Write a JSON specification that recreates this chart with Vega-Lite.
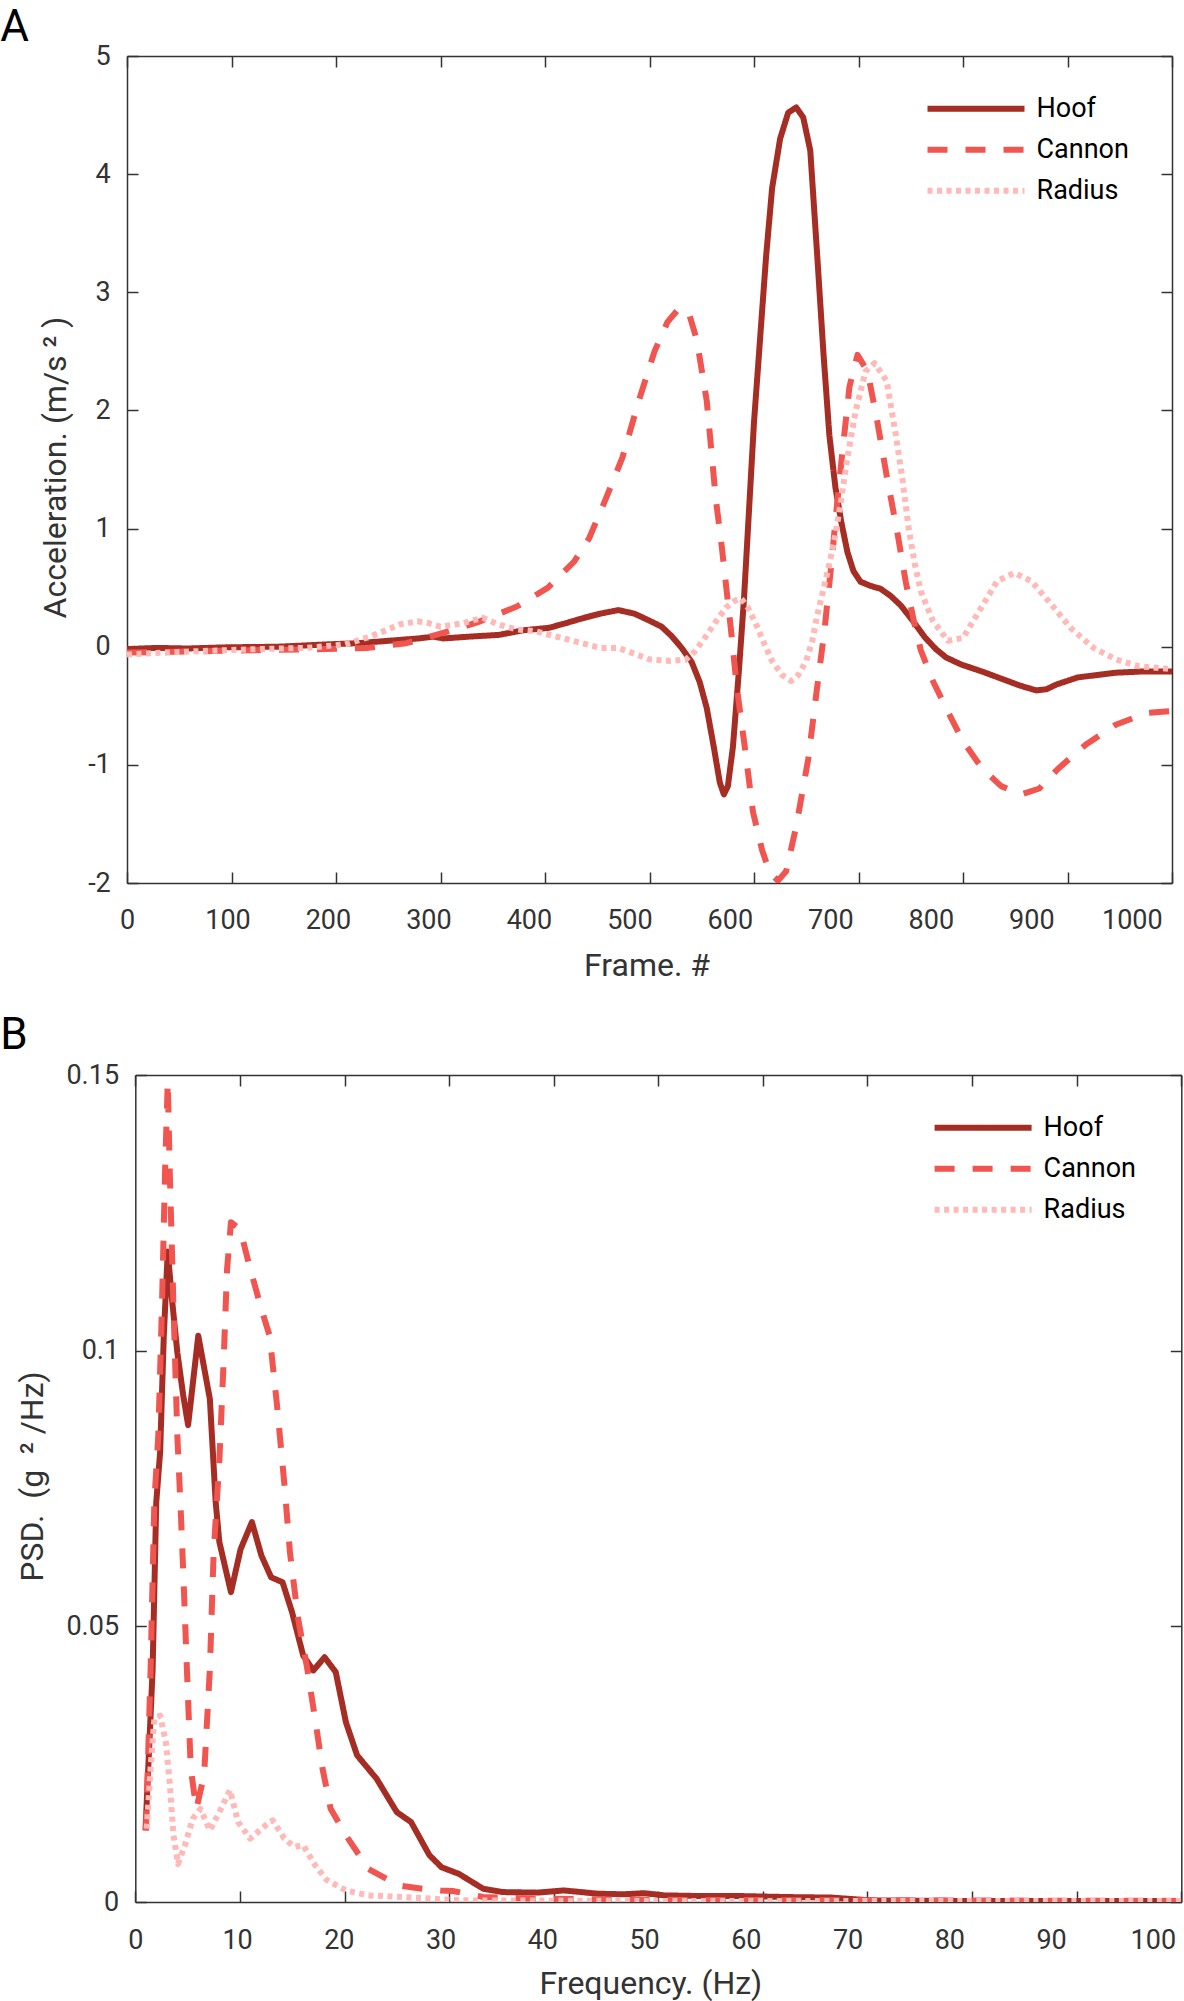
{
  "$schema": "https://vega.github.io/schema/vega-lite/v6.json",
  "background": "white",
  "padding": {"left": 0, "top": 6, "right": 0, "bottom": 3},
  "config": {
    "font": "Roboto",
    "view": {"stroke": null},
    "axis": {
      "grid": false,
      "domainColor": "#333333",
      "domainWidth": 1.5,
      "tickColor": "#333333",
      "tickWidth": 1.5,
      "tickSize": -11,
      "labelFont": "Roboto",
      "labelFontSize": 27,
      "labelColor": "#333333",
      "labelFlush": false,
      "labelOverlap": false,
      "titleFont": "Roboto",
      "titleFontSize": 32,
      "titleFontWeight": "normal",
      "titleColor": "#333333"
    },
    "legend": {
      "labelFont": "Roboto",
      "labelFontSize": 27,
      "labelColor": "black"
    }
  },
  "datasets": {
    "accel": [
      {"part": "Hoof", "frame": 0, "acc": -0.02}, {"part": "Hoof", "frame": 30, "acc": -0.01}, {"part": "Hoof", "frame": 60, "acc": -0.015}, {"part": "Hoof", "frame": 100, "acc": -0.005}, {"part": "Hoof", "frame": 150, "acc": 0.0}, {"part": "Hoof", "frame": 200, "acc": 0.02}, {"part": "Hoof", "frame": 230, "acc": 0.03}, {"part": "Hoof", "frame": 260, "acc": 0.05}, {"part": "Hoof", "frame": 290, "acc": 0.07}, {"part": "Hoof", "frame": 305, "acc": 0.085}, {"part": "Hoof", "frame": 315, "acc": 0.07}, {"part": "Hoof", "frame": 340, "acc": 0.085}, {"part": "Hoof", "frame": 370, "acc": 0.1}, {"part": "Hoof", "frame": 395, "acc": 0.14}, {"part": "Hoof", "frame": 420, "acc": 0.16}, {"part": "Hoof", "frame": 437, "acc": 0.2}, {"part": "Hoof", "frame": 455, "acc": 0.245}, {"part": "Hoof", "frame": 471, "acc": 0.28}, {"part": "Hoof", "frame": 489, "acc": 0.31}, {"part": "Hoof", "frame": 505, "acc": 0.28}, {"part": "Hoof", "frame": 520, "acc": 0.22}, {"part": "Hoof", "frame": 532, "acc": 0.17}, {"part": "Hoof", "frame": 542, "acc": 0.09}, {"part": "Hoof", "frame": 552, "acc": -0.01}, {"part": "Hoof", "frame": 562, "acc": -0.13}, {"part": "Hoof", "frame": 570, "acc": -0.3}, {"part": "Hoof", "frame": 577, "acc": -0.52}, {"part": "Hoof", "frame": 584, "acc": -0.85}, {"part": "Hoof", "frame": 590, "acc": -1.15}, {"part": "Hoof", "frame": 594, "acc": -1.25}, {"part": "Hoof", "frame": 598, "acc": -1.18}, {"part": "Hoof", "frame": 603, "acc": -0.85}, {"part": "Hoof", "frame": 609, "acc": -0.2}, {"part": "Hoof", "frame": 614, "acc": 0.4}, {"part": "Hoof", "frame": 619, "acc": 1.15}, {"part": "Hoof", "frame": 624, "acc": 1.9}, {"part": "Hoof", "frame": 630, "acc": 2.6}, {"part": "Hoof", "frame": 636, "acc": 3.3}, {"part": "Hoof", "frame": 642, "acc": 3.88}, {"part": "Hoof", "frame": 650, "acc": 4.3}, {"part": "Hoof", "frame": 658, "acc": 4.52}, {"part": "Hoof", "frame": 666, "acc": 4.565}, {"part": "Hoof", "frame": 673, "acc": 4.48}, {"part": "Hoof", "frame": 680, "acc": 4.2}, {"part": "Hoof", "frame": 687, "acc": 3.3}, {"part": "Hoof", "frame": 693, "acc": 2.5}, {"part": "Hoof", "frame": 699, "acc": 1.79}, {"part": "Hoof", "frame": 705, "acc": 1.35}, {"part": "Hoof", "frame": 711, "acc": 1.05}, {"part": "Hoof", "frame": 717, "acc": 0.8}, {"part": "Hoof", "frame": 723, "acc": 0.64}, {"part": "Hoof", "frame": 730, "acc": 0.55}, {"part": "Hoof", "frame": 740, "acc": 0.515}, {"part": "Hoof", "frame": 750, "acc": 0.49}, {"part": "Hoof", "frame": 760, "acc": 0.43}, {"part": "Hoof", "frame": 770, "acc": 0.35}, {"part": "Hoof", "frame": 782, "acc": 0.22}, {"part": "Hoof", "frame": 794, "acc": 0.08}, {"part": "Hoof", "frame": 805, "acc": -0.02}, {"part": "Hoof", "frame": 815, "acc": -0.09}, {"part": "Hoof", "frame": 830, "acc": -0.15}, {"part": "Hoof", "frame": 851, "acc": -0.21}, {"part": "Hoof", "frame": 870, "acc": -0.27}, {"part": "Hoof", "frame": 889, "acc": -0.33}, {"part": "Hoof", "frame": 905, "acc": -0.37}, {"part": "Hoof", "frame": 915, "acc": -0.36}, {"part": "Hoof", "frame": 925, "acc": -0.32}, {"part": "Hoof", "frame": 946, "acc": -0.26}, {"part": "Hoof", "frame": 984, "acc": -0.22}, {"part": "Hoof", "frame": 1010, "acc": -0.21}, {"part": "Hoof", "frame": 1040, "acc": -0.21},
      {"part": "Cannon", "frame": 0, "acc": -0.05}, {"part": "Cannon", "frame": 64, "acc": -0.04}, {"part": "Cannon", "frame": 120, "acc": -0.03}, {"part": "Cannon", "frame": 198, "acc": -0.02}, {"part": "Cannon", "frame": 240, "acc": -0.01}, {"part": "Cannon", "frame": 278, "acc": 0.03}, {"part": "Cannon", "frame": 312, "acc": 0.11}, {"part": "Cannon", "frame": 350, "acc": 0.21}, {"part": "Cannon", "frame": 388, "acc": 0.34}, {"part": "Cannon", "frame": 419, "acc": 0.5}, {"part": "Cannon", "frame": 445, "acc": 0.72}, {"part": "Cannon", "frame": 460, "acc": 0.92}, {"part": "Cannon", "frame": 474, "acc": 1.2}, {"part": "Cannon", "frame": 493, "acc": 1.6}, {"part": "Cannon", "frame": 510, "acc": 2.1}, {"part": "Cannon", "frame": 525, "acc": 2.5}, {"part": "Cannon", "frame": 538, "acc": 2.75}, {"part": "Cannon", "frame": 550, "acc": 2.87}, {"part": "Cannon", "frame": 560, "acc": 2.8}, {"part": "Cannon", "frame": 567, "acc": 2.6}, {"part": "Cannon", "frame": 577, "acc": 2.08}, {"part": "Cannon", "frame": 586, "acc": 1.25}, {"part": "Cannon", "frame": 592, "acc": 0.84}, {"part": "Cannon", "frame": 601, "acc": 0.15}, {"part": "Cannon", "frame": 607, "acc": -0.35}, {"part": "Cannon", "frame": 615, "acc": -0.86}, {"part": "Cannon", "frame": 623, "acc": -1.4}, {"part": "Cannon", "frame": 632, "acc": -1.72}, {"part": "Cannon", "frame": 640, "acc": -1.92}, {"part": "Cannon", "frame": 648, "acc": -1.98}, {"part": "Cannon", "frame": 656, "acc": -1.9}, {"part": "Cannon", "frame": 666, "acc": -1.52}, {"part": "Cannon", "frame": 678, "acc": -0.95}, {"part": "Cannon", "frame": 686, "acc": -0.4}, {"part": "Cannon", "frame": 694, "acc": 0.13}, {"part": "Cannon", "frame": 701, "acc": 0.7}, {"part": "Cannon", "frame": 706, "acc": 1.15}, {"part": "Cannon", "frame": 712, "acc": 1.65}, {"part": "Cannon", "frame": 719, "acc": 2.2}, {"part": "Cannon", "frame": 727, "acc": 2.47}, {"part": "Cannon", "frame": 737, "acc": 2.33}, {"part": "Cannon", "frame": 746, "acc": 1.94}, {"part": "Cannon", "frame": 756, "acc": 1.45}, {"part": "Cannon", "frame": 767, "acc": 0.95}, {"part": "Cannon", "frame": 775, "acc": 0.55}, {"part": "Cannon", "frame": 783, "acc": 0.22}, {"part": "Cannon", "frame": 790, "acc": -0.03}, {"part": "Cannon", "frame": 802, "acc": -0.29}, {"part": "Cannon", "frame": 817, "acc": -0.55}, {"part": "Cannon", "frame": 832, "acc": -0.8}, {"part": "Cannon", "frame": 851, "acc": -1.03}, {"part": "Cannon", "frame": 870, "acc": -1.18}, {"part": "Cannon", "frame": 890, "acc": -1.25}, {"part": "Cannon", "frame": 908, "acc": -1.2}, {"part": "Cannon", "frame": 927, "acc": -1.03}, {"part": "Cannon", "frame": 954, "acc": -0.83}, {"part": "Cannon", "frame": 984, "acc": -0.66}, {"part": "Cannon", "frame": 1015, "acc": -0.56}, {"part": "Cannon", "frame": 1040, "acc": -0.545},
      {"part": "Radius", "frame": 0, "acc": -0.065}, {"part": "Radius", "frame": 64, "acc": -0.04}, {"part": "Radius", "frame": 130, "acc": -0.02}, {"part": "Radius", "frame": 179, "acc": -0.01}, {"part": "Radius", "frame": 217, "acc": 0.02}, {"part": "Radius", "frame": 240, "acc": 0.08}, {"part": "Radius", "frame": 255, "acc": 0.13}, {"part": "Radius", "frame": 272, "acc": 0.19}, {"part": "Radius", "frame": 289, "acc": 0.215}, {"part": "Radius", "frame": 300, "acc": 0.2}, {"part": "Radius", "frame": 312, "acc": 0.17}, {"part": "Radius", "frame": 335, "acc": 0.2}, {"part": "Radius", "frame": 354, "acc": 0.245}, {"part": "Radius", "frame": 369, "acc": 0.19}, {"part": "Radius", "frame": 388, "acc": 0.146}, {"part": "Radius", "frame": 407, "acc": 0.13}, {"part": "Radius", "frame": 430, "acc": 0.08}, {"part": "Radius", "frame": 445, "acc": 0.047}, {"part": "Radius", "frame": 471, "acc": -0.01}, {"part": "Radius", "frame": 489, "acc": -0.01}, {"part": "Radius", "frame": 505, "acc": -0.06}, {"part": "Radius", "frame": 520, "acc": -0.107}, {"part": "Radius", "frame": 540, "acc": -0.12}, {"part": "Radius", "frame": 556, "acc": -0.11}, {"part": "Radius", "frame": 565, "acc": -0.04}, {"part": "Radius", "frame": 573, "acc": 0.05}, {"part": "Radius", "frame": 585, "acc": 0.2}, {"part": "Radius", "frame": 596, "acc": 0.33}, {"part": "Radius", "frame": 605, "acc": 0.39}, {"part": "Radius", "frame": 611, "acc": 0.41}, {"part": "Radius", "frame": 618, "acc": 0.33}, {"part": "Radius", "frame": 626, "acc": 0.19}, {"part": "Radius", "frame": 634, "acc": 0.03}, {"part": "Radius", "frame": 642, "acc": -0.12}, {"part": "Radius", "frame": 652, "acc": -0.24}, {"part": "Radius", "frame": 661, "acc": -0.29}, {"part": "Radius", "frame": 668, "acc": -0.24}, {"part": "Radius", "frame": 676, "acc": -0.12}, {"part": "Radius", "frame": 682, "acc": 0.05}, {"part": "Radius", "frame": 687, "acc": 0.27}, {"part": "Radius", "frame": 693, "acc": 0.48}, {"part": "Radius", "frame": 699, "acc": 0.7}, {"part": "Radius", "frame": 705, "acc": 0.95}, {"part": "Radius", "frame": 710, "acc": 1.2}, {"part": "Radius", "frame": 716, "acc": 1.55}, {"part": "Radius", "frame": 725, "acc": 1.99}, {"part": "Radius", "frame": 735, "acc": 2.33}, {"part": "Radius", "frame": 744, "acc": 2.4}, {"part": "Radius", "frame": 756, "acc": 2.25}, {"part": "Radius", "frame": 765, "acc": 1.8}, {"part": "Radius", "frame": 772, "acc": 1.4}, {"part": "Radius", "frame": 778, "acc": 1.0}, {"part": "Radius", "frame": 784, "acc": 0.7}, {"part": "Radius", "frame": 790, "acc": 0.47}, {"part": "Radius", "frame": 802, "acc": 0.22}, {"part": "Radius", "frame": 817, "acc": 0.05}, {"part": "Radius", "frame": 832, "acc": 0.075}, {"part": "Radius", "frame": 848, "acc": 0.3}, {"part": "Radius", "frame": 866, "acc": 0.555}, {"part": "Radius", "frame": 883, "acc": 0.625}, {"part": "Radius", "frame": 900, "acc": 0.555}, {"part": "Radius", "frame": 920, "acc": 0.357}, {"part": "Radius", "frame": 939, "acc": 0.16}, {"part": "Radius", "frame": 962, "acc": -0.01}, {"part": "Radius", "frame": 984, "acc": -0.107}, {"part": "Radius", "frame": 1007, "acc": -0.165}, {"part": "Radius", "frame": 1040, "acc": -0.19}
    ],
    "psd": [
      {"part": "Hoof", "hz": 1.0, "psd": 0.013}, {"part": "Hoof", "hz": 1.7, "psd": 0.042}, {"part": "Hoof", "hz": 2.06, "psd": 0.0725}, {"part": "Hoof", "hz": 2.44, "psd": 0.0816}, {"part": "Hoof", "hz": 2.8, "psd": 0.1027}, {"part": "Hoof", "hz": 3.19, "psd": 0.118}, {"part": "Hoof", "hz": 3.57, "psd": 0.11}, {"part": "Hoof", "hz": 4.13, "psd": 0.0997}, {"part": "Hoof", "hz": 4.7, "psd": 0.092}, {"part": "Hoof", "hz": 5.19, "psd": 0.0865}, {"part": "Hoof", "hz": 6.19, "psd": 0.1027}, {"part": "Hoof", "hz": 7.33, "psd": 0.0912}, {"part": "Hoof", "hz": 7.9, "psd": 0.0725}, {"part": "Hoof", "hz": 8.26, "psd": 0.0653}, {"part": "Hoof", "hz": 9.4, "psd": 0.0562}, {"part": "Hoof", "hz": 10.35, "psd": 0.064}, {"part": "Hoof", "hz": 11.46, "psd": 0.0689}, {"part": "Hoof", "hz": 12.4, "psd": 0.0628}, {"part": "Hoof", "hz": 13.35, "psd": 0.0589}, {"part": "Hoof", "hz": 14.47, "psd": 0.058}, {"part": "Hoof", "hz": 15.4, "psd": 0.0526}, {"part": "Hoof", "hz": 16.5, "psd": 0.0447}, {"part": "Hoof", "hz": 17.5, "psd": 0.042}, {"part": "Hoof", "hz": 18.6, "psd": 0.0444}, {"part": "Hoof", "hz": 19.7, "psd": 0.0417}, {"part": "Hoof", "hz": 20.7, "psd": 0.0326}, {"part": "Hoof", "hz": 21.8, "psd": 0.0266}, {"part": "Hoof", "hz": 23.7, "psd": 0.0224}, {"part": "Hoof", "hz": 25.7, "psd": 0.0163}, {"part": "Hoof", "hz": 27.1, "psd": 0.0145}, {"part": "Hoof", "hz": 28.9, "psd": 0.0085}, {"part": "Hoof", "hz": 30.1, "psd": 0.0063}, {"part": "Hoof", "hz": 31.8, "psd": 0.0051}, {"part": "Hoof", "hz": 34.2, "psd": 0.0024}, {"part": "Hoof", "hz": 36.1, "psd": 0.0018}, {"part": "Hoof", "hz": 39.5, "psd": 0.0017}, {"part": "Hoof", "hz": 42.1, "psd": 0.0021}, {"part": "Hoof", "hz": 45.5, "psd": 0.0015}, {"part": "Hoof", "hz": 48, "psd": 0.0014}, {"part": "Hoof", "hz": 50, "psd": 0.0016}, {"part": "Hoof", "hz": 52, "psd": 0.0012}, {"part": "Hoof", "hz": 55, "psd": 0.0011}, {"part": "Hoof", "hz": 59, "psd": 0.0011}, {"part": "Hoof", "hz": 64, "psd": 0.0009}, {"part": "Hoof", "hz": 68.4, "psd": 0.0008}, {"part": "Hoof", "hz": 72.2, "psd": 0.0003}, {"part": "Hoof", "hz": 80, "psd": 0.0002}, {"part": "Hoof", "hz": 90, "psd": 0.0002}, {"part": "Hoof", "hz": 102.8, "psd": 0.0002},
      {"part": "Cannon", "hz": 1.05, "psd": 0.013}, {"part": "Cannon", "hz": 1.5, "psd": 0.042}, {"part": "Cannon", "hz": 1.87, "psd": 0.0725}, {"part": "Cannon", "hz": 2.26, "psd": 0.0846}, {"part": "Cannon", "hz": 2.63, "psd": 0.1088}, {"part": "Cannon", "hz": 2.93, "psd": 0.133}, {"part": "Cannon", "hz": 3.19, "psd": 0.1488}, {"part": "Cannon", "hz": 3.38, "psd": 0.133}, {"part": "Cannon", "hz": 3.74, "psd": 0.1088}, {"part": "Cannon", "hz": 4.13, "psd": 0.0846}, {"part": "Cannon", "hz": 4.43, "psd": 0.0725}, {"part": "Cannon", "hz": 4.7, "psd": 0.0604}, {"part": "Cannon", "hz": 5.07, "psd": 0.0423}, {"part": "Cannon", "hz": 5.45, "psd": 0.0242}, {"part": "Cannon", "hz": 6.0, "psd": 0.0169}, {"part": "Cannon", "hz": 6.76, "psd": 0.023}, {"part": "Cannon", "hz": 7.33, "psd": 0.0423}, {"part": "Cannon", "hz": 7.7, "psd": 0.0634}, {"part": "Cannon", "hz": 8.26, "psd": 0.08}, {"part": "Cannon", "hz": 8.65, "psd": 0.0967}, {"part": "Cannon", "hz": 9.02, "psd": 0.1148}, {"part": "Cannon", "hz": 9.4, "psd": 0.1233}, {"part": "Cannon", "hz": 10.3, "psd": 0.122}, {"part": "Cannon", "hz": 11.3, "psd": 0.1148}, {"part": "Cannon", "hz": 12.4, "psd": 0.1075}, {"part": "Cannon", "hz": 13.2, "psd": 0.1027}, {"part": "Cannon", "hz": 13.9, "psd": 0.0906}, {"part": "Cannon", "hz": 14.66, "psd": 0.0756}, {"part": "Cannon", "hz": 15.2, "psd": 0.0634}, {"part": "Cannon", "hz": 16.0, "psd": 0.0514}, {"part": "Cannon", "hz": 16.9, "psd": 0.0423}, {"part": "Cannon", "hz": 17.67, "psd": 0.0332}, {"part": "Cannon", "hz": 18.4, "psd": 0.0242}, {"part": "Cannon", "hz": 19.2, "psd": 0.0169}, {"part": "Cannon", "hz": 20.7, "psd": 0.0121}, {"part": "Cannon", "hz": 22.9, "psd": 0.006}, {"part": "Cannon", "hz": 25.9, "psd": 0.003}, {"part": "Cannon", "hz": 28.2, "psd": 0.0024}, {"part": "Cannon", "hz": 30, "psd": 0.0021}, {"part": "Cannon", "hz": 31.2, "psd": 0.002}, {"part": "Cannon", "hz": 34.2, "psd": 0.0009}, {"part": "Cannon", "hz": 39.5, "psd": 0.0006}, {"part": "Cannon", "hz": 50, "psd": 0.0004}, {"part": "Cannon", "hz": 70, "psd": 0.0003}, {"part": "Cannon", "hz": 102.8, "psd": 0.0002},
      {"part": "Radius", "hz": 1.12, "psd": 0.0133}, {"part": "Radius", "hz": 1.5, "psd": 0.0242}, {"part": "Radius", "hz": 1.87, "psd": 0.0332}, {"part": "Radius", "hz": 2.44, "psd": 0.0338}, {"part": "Radius", "hz": 3.0, "psd": 0.029}, {"part": "Radius", "hz": 3.4, "psd": 0.0212}, {"part": "Radius", "hz": 3.75, "psd": 0.0121}, {"part": "Radius", "hz": 4.2, "psd": 0.0069}, {"part": "Radius", "hz": 4.88, "psd": 0.0103}, {"part": "Radius", "hz": 5.64, "psd": 0.0151}, {"part": "Radius", "hz": 6.4, "psd": 0.0169}, {"part": "Radius", "hz": 7.33, "psd": 0.013}, {"part": "Radius", "hz": 8.26, "psd": 0.0163}, {"part": "Radius", "hz": 9.3, "psd": 0.0203}, {"part": "Radius", "hz": 10.1, "psd": 0.0145}, {"part": "Radius", "hz": 11.3, "psd": 0.0115}, {"part": "Radius", "hz": 12.8, "psd": 0.0139}, {"part": "Radius", "hz": 13.5, "psd": 0.0148}, {"part": "Radius", "hz": 14.65, "psd": 0.0115}, {"part": "Radius", "hz": 15.6, "psd": 0.01}, {"part": "Radius", "hz": 16.5, "psd": 0.0103}, {"part": "Radius", "hz": 17.67, "psd": 0.0067}, {"part": "Radius", "hz": 18.8, "psd": 0.004}, {"part": "Radius", "hz": 20.7, "psd": 0.0021}, {"part": "Radius", "hz": 22.9, "psd": 0.0012}, {"part": "Radius", "hz": 26.3, "psd": 0.0009}, {"part": "Radius", "hz": 32, "psd": 0.0003}, {"part": "Radius", "hz": 50, "psd": 0.0002}, {"part": "Radius", "hz": 102.8, "psd": 0.0002}
    ]
  },
  "concat": [
    {
      "title": {"text": "A", "anchor": "start", "frame": "group", "dx": -126.7, "offset": -43, "fontSize": 44, "fontWeight": "normal", "color": "black", "baseline": "alphabetic", "font": "Roboto"},
      "width": 1045,
      "height": 827,
      "data": {"name": "accel"},
      "layer": [
        {
          "mark": {"type": "line", "strokeWidth": 6, "clip": true, "strokeCap": "butt", "strokeJoin": "round"},
          "encoding": {
            "x": {"field": "frame", "type": "quantitative", "scale": {"domain": [0, 1040], "nice": false, "zero": false},
              "axis": {"orient": "bottom", "values": [0, 104, 208, 312, 416, 520, 624, 728, 832, 936, 1040],
                "labelExpr": "format(round(datum.value/1.04), 'd')",
                "labelOffset": {"condition": {"test": "datum.value == 0", "value": 0}, "expr": "-0.038646*datum.value"},
                "labelPadding": 56.5, "labelBaseline": "alphabetic",
                "title": "Frame. #", "titleX": 519.5, "titleY": 92, "titleBaseline": "alphabetic"}},
            "y": {"field": "acc", "type": "quantitative", "scale": {"domain": [-2, 5], "nice": false, "zero": false},
              "axis": {"orient": "left", "values": [-2, -1, 0, 1, 2, 3, 4, 5], "labelExpr": "'' + datum.value",
                "labelPadding": 27.7, "title": "Acceleration.\u00a0(m/s\u00a0²\u00a0)", "titleX": -61.7, "titleY": 411, "titleBaseline": "alphabetic"}},
            "color": {"field": "part", "type": "nominal", "scale": {"domain": ["Hoof", "Cannon", "Radius"], "range": ["#A52D23", "#F05550", "#FFB9B6"]},
              "legend": {"title": null, "orient": "none", "legendX": 797.5, "legendY": 32.5, "direction": "vertical", "symbolType": "stroke", "symbolSize": 9409, "symbolStrokeWidth": 6, "labelOffset": 9, "clipHeight": 40.3, "rowPadding": 0, "padding": 0}},
            "strokeDash": {"field": "part", "type": "nominal", "scale": {"domain": ["Hoof", "Cannon", "Radius"], "range": [[1, 0], [20, 18], [5, 4.5]]},
              "legend": {"title": null, "orient": "none", "legendX": 797.5, "legendY": 32.5, "direction": "vertical", "symbolType": "stroke", "symbolSize": 9409, "symbolStrokeWidth": 6, "labelOffset": 9, "clipHeight": 40.3, "rowPadding": 0, "padding": 0}}
          }
        },
        {
          "mark": {"type": "point", "opacity": 0},
          "encoding": {
            "x": {"field": "frame", "type": "quantitative", "scale": {"domain": [0, 1040], "nice": false, "zero": false},
              "axis": {"orient": "top", "values": [0, 104, 208, 312, 416, 520, 624, 728, 832, 936, 1040], "labels": false, "title": null}},
            "y": {"field": "acc", "type": "quantitative", "scale": {"domain": [-2, 5], "nice": false, "zero": false},
              "axis": {"orient": "right", "values": [-2, -1, 0, 1, 2, 3, 4, 5], "labels": false, "title": null}}
          }
        }
      ],
      "resolve": {"axis": {"x": "independent", "y": "independent"}}
    },
    {
      "title": {"text": "B", "anchor": "start", "frame": "group", "dx": -126.7, "offset": -31.7, "fontSize": 44, "fontWeight": "normal", "color": "black", "baseline": "alphabetic", "font": "Roboto"},
      "width": 1054.3,
      "height": 827,
      "data": {"name": "psd"},
      "layer": [
        {
          "mark": {"type": "line", "strokeWidth": 6, "clip": true, "strokeCap": "butt", "strokeJoin": "round"},
          "encoding": {
            "x": {"field": "hz", "type": "quantitative", "scale": {"domain": [0, 102.8], "range": [8.3, 1054.3], "nice": false, "zero": false},
              "axis": {"orient": "bottom", "values": [0, 10.28, 20.56, 30.84, 41.12, 51.4, 61.68, 71.96, 82.24, 92.52, 102.8],
                "labelExpr": "format(round(datum.value/1.028), 'd')",
                "labelOffset": {"condition": {"test": "datum.value == 0", "value": 0}, "expr": "-0.27714*datum.value"},
                "labelPadding": 57, "labelBaseline": "alphabetic",
                "title": "Frequency. (Hz)", "titleX": 523.4, "titleY": 91, "titleBaseline": "alphabetic"}},
            "y": {"field": "psd", "type": "quantitative", "scale": {"domain": [0, 0.15], "nice": false, "zero": false},
              "axis": {"orient": "left", "offset": -8.3, "values": [0, 0.05, 0.1, 0.15], "labelExpr": "'' + datum.value",
                "labelPadding": 27.7, "title": "PSD.\u00a0\u00a0(g\u00a0\u00a0²\u00a0/Hz)", "titleX": -92.5, "titleY": 401, "titleBaseline": "alphabetic"}},
            "color": {"field": "part", "type": "nominal", "scale": {"domain": ["Hoof", "Cannon", "Radius"], "range": ["#A52D23", "#F05550", "#FFB9B6"]},
              "legend": {"title": null, "orient": "none", "legendX": 804.6, "legendY": 32.6, "direction": "vertical", "symbolType": "stroke", "symbolSize": 9409, "symbolStrokeWidth": 6, "labelOffset": 9, "clipHeight": 40.3, "rowPadding": 0, "padding": 0}},
            "strokeDash": {"field": "part", "type": "nominal", "scale": {"domain": ["Hoof", "Cannon", "Radius"], "range": [[1, 0], [20, 18], [5, 4.5]]},
              "legend": {"title": null, "orient": "none", "legendX": 804.6, "legendY": 32.6, "direction": "vertical", "symbolType": "stroke", "symbolSize": 9409, "symbolStrokeWidth": 6, "labelOffset": 9, "clipHeight": 40.3, "rowPadding": 0, "padding": 0}}
          }
        },
        {
          "mark": {"type": "point", "opacity": 0},
          "encoding": {
            "x": {"field": "hz", "type": "quantitative", "scale": {"domain": [0, 102.8], "range": [8.3, 1054.3], "nice": false, "zero": false},
              "axis": {"orient": "top", "values": [0, 10.28, 20.56, 30.84, 41.12, 51.4, 61.68, 71.96, 82.24, 92.52, 102.8], "labels": false, "title": null}},
            "y": {"field": "psd", "type": "quantitative", "scale": {"domain": [0, 0.15], "nice": false, "zero": false},
              "axis": {"orient": "right", "values": [0, 0.05, 0.1, 0.15], "labels": false, "title": null}}
          }
        }
      ],
      "resolve": {"axis": {"x": "independent", "y": "independent"}}
    }
  ],
  "columns": 1,
  "align": "none",
  "spacing": 32,
  "resolve": {
    "scale": {"color": "independent", "strokeDash": "independent"},
    "legend": {"color": "independent", "strokeDash": "independent"}
  }
}
